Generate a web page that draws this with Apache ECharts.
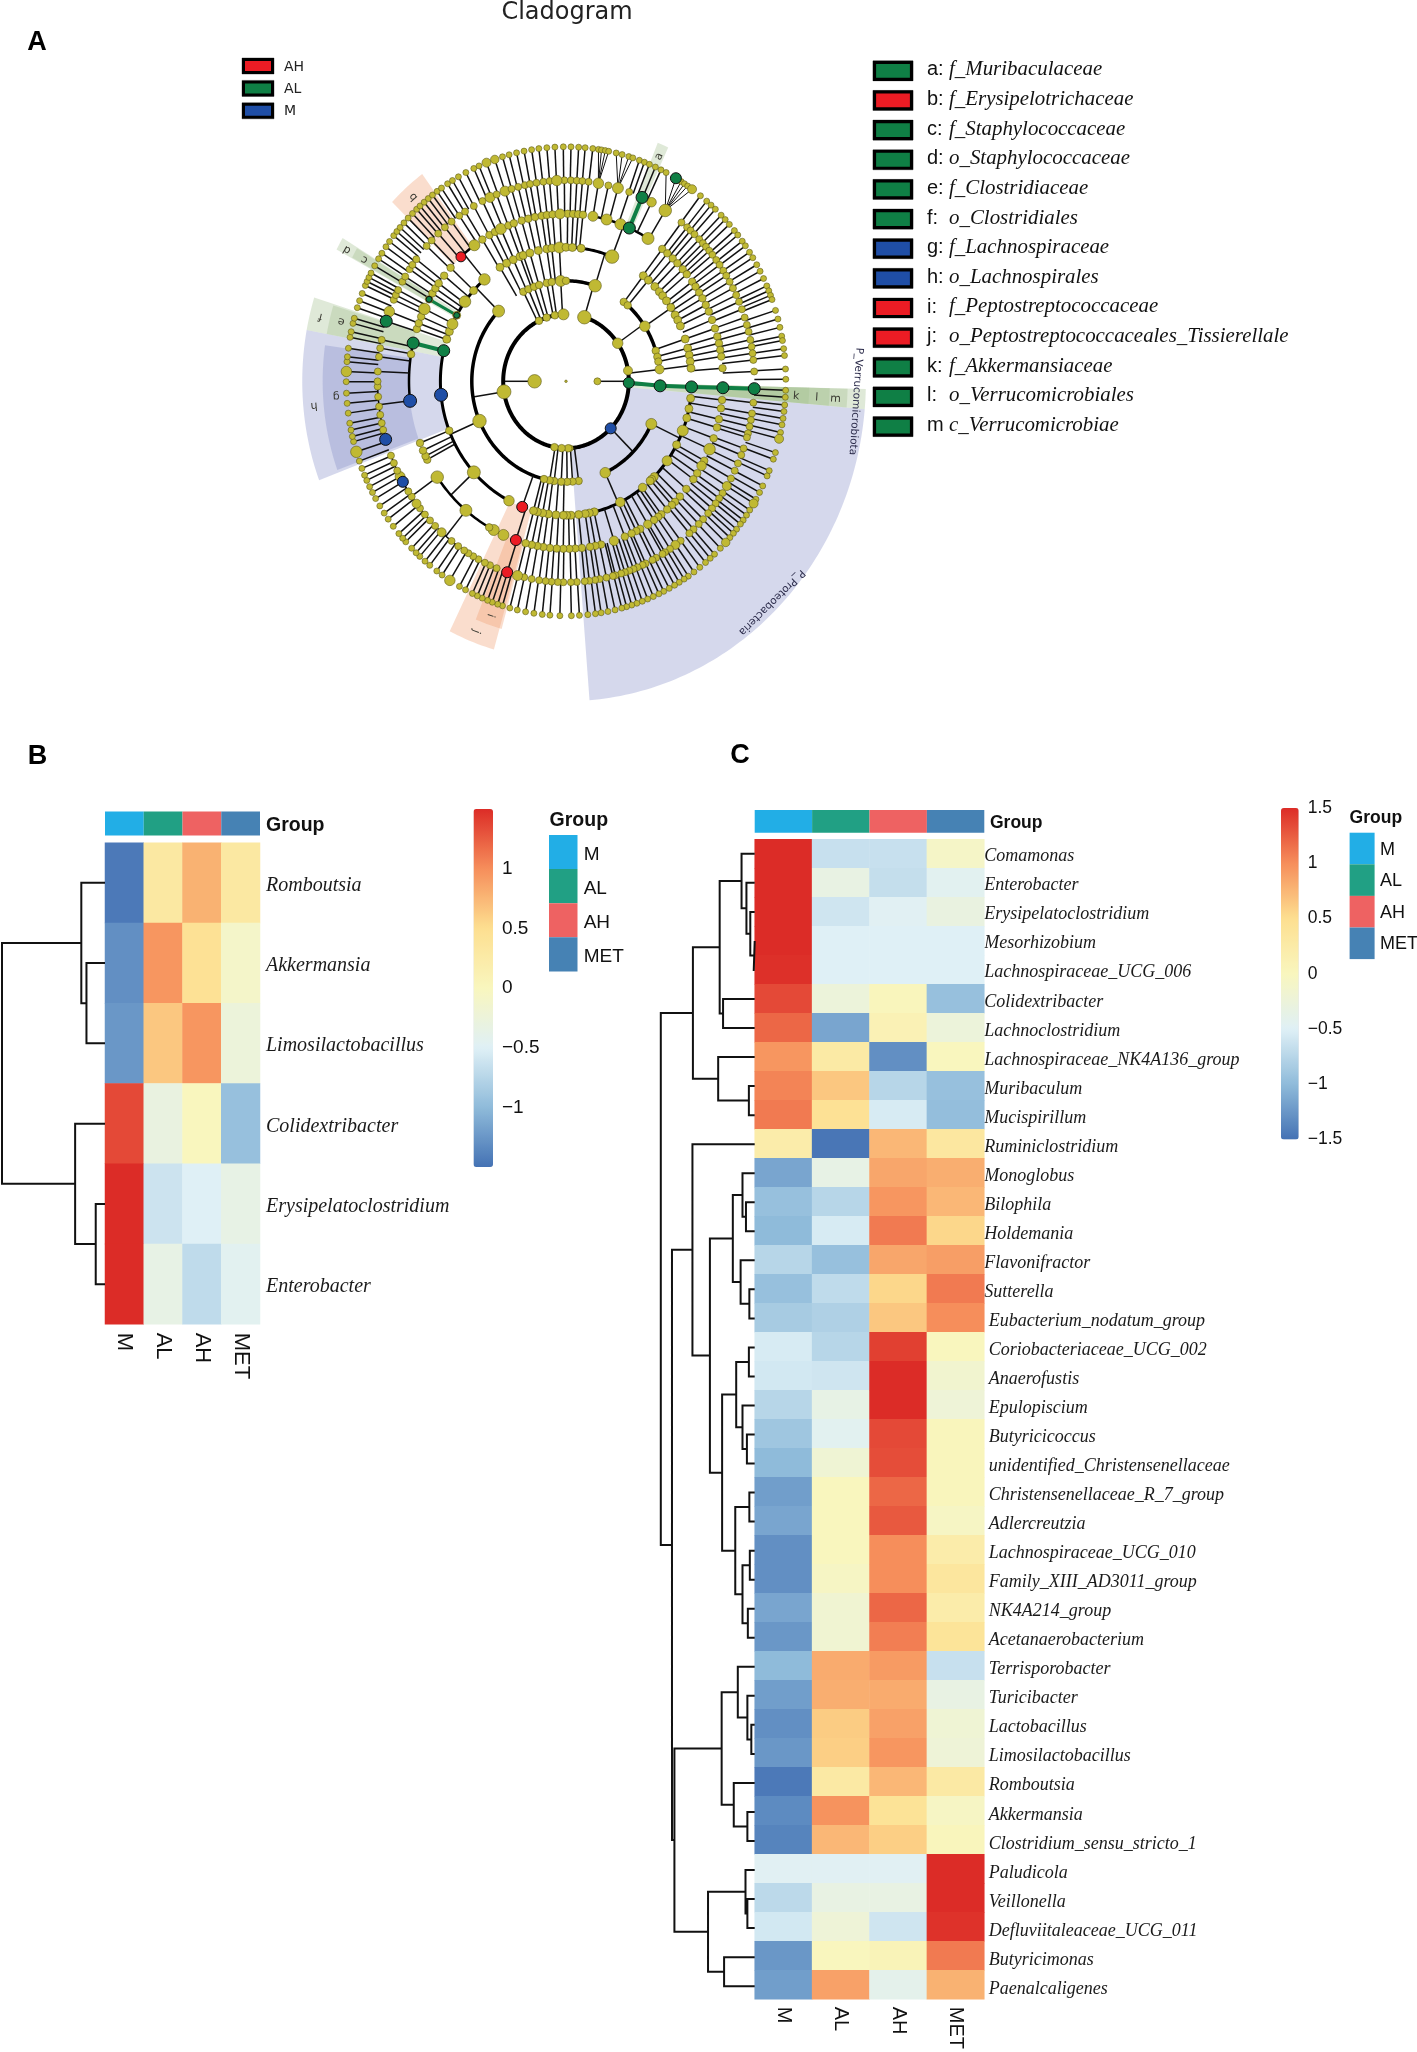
<!DOCTYPE html>
<html><head><meta charset="utf-8">
<style>html,body{margin:0;padding:0;background:#fff}#c{width:1417px;height:2052px}</style>
<script src="https://cdn.jsdelivr.net/npm/echarts@6/dist/echarts.min.js"></script>
</head><body><div id="c"></div>
<script>
// ---------- Data: heatmaps ----------
const groups = ['M','AL','AH','MET'];
const rowsB = ['Romboutsia','Akkermansia','Limosilactobacillus','Colidextribacter','Erysipelatoclostridium','Enterobacter'];
const valuesB = [
 [-1.45,.3,.78,.3],[-1.3,.95,.45,-.1],[-1.25,.65,.95,-.25],[1.35,-.3,0,-.95],[1.5,-.62,-.5,-.35],[1.5,-.35,-.7,-.45]];
const rowsC = ['Comamonas','Enterobacter','Erysipelatoclostridium','Mesorhizobium','Lachnospiraceae_UCG_006','Colidextribacter','Lachnoclostridium','Lachnospiraceae_NK4A136_group','Muribaculum','Mucispirillum','Ruminiclostridium','Monoglobus','Bilophila','Holdemania','Flavonifractor','Sutterella','Eubacterium_nodatum_group','Coriobacteriaceae_UCG_002','Anaerofustis','Epulopiscium','Butyricicoccus','unidentified_Christensenellaceae','Christensenellaceae_R_7_group','Adlercreutzia','Lachnospiraceae_UCG_010','Family_XIII_AD3011_group','NK4A214_group','Acetanaerobacterium','Terrisporobacter','Turicibacter','Lactobacillus','Limosilactobacillus','Romboutsia','Akkermansia','Clostridium_sensu_stricto_1','Paludicola','Veillonella','Defluviitaleaceae_UCG_011','Butyricimonas','Paenalcaligenes'];
const valuesC = [
 [1.5,-.65,-.65,-.08],[1.5,-.33,-.67,-.45],[1.5,-.6,-.47,-.3],[1.5,-.5,-.5,-.5],[1.48,-.5,-.5,-.5],[1.35,-.25,.02,-.95],[1.2,-1.15,.1,-.25],[.95,.27,-1.3,0],[1.05,.65,-.75,-.95],[1.1,.45,-.55,-.97],
 [.22,-1.47,.75,.33],[-1.15,-.35,.85,.8],[-.95,-.75,.95,.75],[-1,-.55,1.1,.55],[-.75,-.95,.85,.9],[-.95,-.7,.55,1.1],[-.85,-.8,.65,1],[-.55,-.75,1.4,0],[-.58,-.6,1.5,-.15],[-.75,-.35,1.5,-.22],
 [-.9,-.45,1.35,.02],[-1,-.2,1.33,.02],[-1.2,0,1.2,.02],[-1.15,0,1.27,-.05],[-1.3,0,1,.22],[-1.3,-.05,1,.35],[-1.15,-.18,1.2,.22],[-1.25,-.18,1.08,.4],[-1,.82,.92,-.65],[-1.2,.8,.82,-.33],
 [-1.3,.62,.88,-.2],[-1.25,.6,.95,-.22],[-1.45,.28,.75,.28],[-1.33,.97,.42,-.05],[-1.38,.75,.6,.02],[-.47,-.47,-.47,1.5],[-.72,-.33,-.33,1.5],[-.58,-.22,-.6,1.47],[-1.25,0,.06,1.1],[-1.2,.88,-.4,.78]];
// dendrograms: [height, left, right]; a number is a row index
const treeB = [1,[.23,0,[.18,1,2]],[.29,3,[.09,4,5]]];
const treeC = [1,
 [.658,[.373,[.14,0,[.088,1,[.047,2,[.01,3,4]]]],[.337,5,6]],[.389,7,[.062,8,9]]],
 [.881,
  [.663,10,[.477,
    [.233,[.13,11,[.093,12,13]],[.15,14,[.057,15,16]]],
    [.347,[.197,[.062,17,18],[.13,19,[.083,20,21]]],[.207,[.057,22,23],[.13,[.052,24,25],[.073,26,27]]]]]],
  [.855,[.352,[.18,28,[.078,29,[.036,30,31]]],[.223,32,[.078,33,34]]],[.497,[.098,35,[.078,36,37]],[.326,38,39]]]]];
const ticksB = [-1,-.5,0,.5,1];

// ---------- Data: cladogram (angle in degrees clockwise from east; a number = node with own spoke,
// an array = [parent angle, child angles...] joined by an arc on that ring) ----------
const ring1 = [0,180];
const ring2 = [[0,-73,-34.6,-9.2,1.3,44.6,86.4],[180,88,94,100.6,171,244.5,252,259.8,267.7]];
const ring3 = [243.1,246.5,250.2,253.4,258.2,261.3,266.8,[-73,-90,-72],[-34.6,-52.2,-49.1,-33.2,-17.7,-14.1,-11.3],-6.8,2.6,[44.6,25.1,65.4],82.3,86,89.3,92.9,97.2,100,[171,103.5,156.7,224.3]];
const ring4 = [238.3,241.8,245.2,248.5,250.1,253.3,257.3,261.2,263.5,267,[288,270,272.9,276.9,291.5],308,311,[326.8,315,318,320.3,323.1,326.6,330.3,332.8,335.6],341.6,345.7,348.7,[353.2,351.5,354.4],2.4,[25.1,7.3,11.8,15.9,21.6,28.3,36.4,45.3,47,48],[65.4,52.4,64.4,77,79.3,81.2,84.2,87.7,89.7],91.2,94.6,98.1,100.7,103.2,105,110.4,[156.7,117,137.2,158.4,174.2,193.2],[224.3,198.3,201.8,205.3,209.5,216.5,222.6,229.5]];
const ring5 = [270.6,272.6,274.4,276.2,[291.5,279.9,285,290.3,293.8,301.5],307.8,310.2,312.8,315.2,318,320.3,323.5,325.6,328,330.3,332.9,335.4,338.5,341.6,344.5,346.9,349.2,351.5,355.5,2.2,6.4,9.3,13.1,16,19.9,23.9,28.3,30.3,33.3,35.8,40,43.5,46,47.6,49.9,52.6,54,55.9,58.6,61.8,63.4,65.3,68,72.2,77.1,79.2,81.2,84.2,86.6,88.8,91,93.4,95.9,98.3,100.5,102.6,104.9,108.6,[137.2,113.5,117.4,119.3,129.6,145.1],152.1,153.5,155.6,158.4,[193.2,173.3,189.3,193.2],198.2,200.3,202.7,205.6,209.3,211.7,213.7,215.8,219.1,222.7,[229.5,228,234.3],237.8,240.8,243.1,245.5,248.5,250.6,253.6,256.1,258.6,261.1,263,265.1,267.8];
const ring6 = [269.5,271.5,273.3,275,276.9,279.9,283,286,289.6,293.8,297,301.8,307.8,310,311.4,313,315,316.6,318,319.5,321,322.9,324.6,326.6,328.3,330.3,332.4,334.6,336.7,339,341.5,343.7,345.7,348.1,350.1,352,353.9,357.2,2.1,6.1,9.2,11.1,13,15,16.2,19.5,21.5,24.1,26.4,28.9,31.4,33.8,35.6,37.4,39.2,41,43.3,45.2,47.4,49.1,52.5,54.5,56.5,58.3,59.2,61.4,62.7,65,66,67.7,69,70.4,71.8,73,74.8,75.6,77.6,79.7,81.1,82.9,84.3,86.7,88.5,90.8,92.5,94.4,96.2,98.2,100.5,102.8,104.9,108.2,[129.6,111.6,113.8,115.5,117.7,119.5,121.2,122.7,124.9,127.4,131.3,134],[145.1,136.2,138.5,140.8,142.5,145,146.8,150,151.7,153.6,156,158.3],[173.3,163.2,166,168,170.4,172.8,175.6,178.5,180],182.8,187,189.5,191.9,197.4,200.3,203.9,205.4,207,209.7,211.4,213.9,215.4,217.4,222.3,224.5,227.3,230,232.6,235.5,237.6,240.7,243.7,246.2,248.4,251.1,253.2,255.3,257.4,259,261,263.1,265,267.2];
const ring7 = [271.3,273.3,275,277,289.5,290.9,292.3,294,295.6,307.7,309.8,311.3,312.8,314.9,316.4,318,320,321.4,323.3,324.7,326.6,328.2,330.2,332,334,336,337.3,338.5,339.6,342.4,344.6,346.7,348.9,350,352,353.7,357,359.5,2.2,3.9,5.8,7.4,9.1,10.7,12.6,14.2,17.7,19.4,22.4,23.8,26.5,28.3,30.2,31.4,33.3,34.8,36.3,37.5,39.1,40.4,41.8,43.4,45.4,47.5,49,50.6,52.5,54.4,56.2,57.5,59,60.4,62,63.6,65,66.6,68.2,69.7,71.2,72.6,74,75.3,77.1,79,80.8,82.3,84.3,86.5,88.6,91.6,94.2,96.2,98.4,100.6,102.8,104.8,106.8,108.1,109.6,110.9,112.4,113.8,115.2,117.2,119,121.9,124.3,126,128.3,129.9,131.7,133,134.6,136.8,138,139.5,141.8,144,145.8,147.9,150,151.7,153.3,155,156.4,158.2,160.1,162.5,165.1,166.4,168,169.7,172.2,174.6,177.1,179.9,182.4,184.8,186,188.1,190.8,192.2,194.3,195.6,198.3,200.1,202,204.1,205.2,206.3,207.5,209.5,211.5,213.1,215,216.6,218.4,219.7,221,222.5,224.1,225.7,227.2,228.4,229.8,231.2,232.6,234.1,235.5,237.4,238.9,240.7,242.9,245.2,246.7,248.8,251.1,253.2,255,257,259,261,262.9,265,267.1,269.3];
const fans7 = [[279.9,278.5,279.3,280.3,281.2],[286,283.2,284.8,286.6,287.7],[301.8,297.1,300,301.6,302.6,303.6,305]];
// larger nodes: [ring, angle, abundance]
const abundance = [[1,180,13.5],[1,0,7],[2,-73,13.5],[2,-34.6,10.5],[2,-9.2,9],[2,171,14],[2,267.7,11],[2,86.4,6.5],[3,-72,12.5],[3,-33.2,10.5],[3,-6.8,9],[3,25.1,11],[3,65.4,10.5],[3,156.7,13.5],[3,224.3,12],[3,266.8,11],[4,291.5,13.5],[4,21.6,11],[4,36.4,10],[4,52.4,8.5],[4,64.4,9.5],[4,117,10.5],[4,137.2,13],[4,158.4,7.5],[4,216.5,11.5],[4,229.5,11.5],[4,205.3,11],[4,267,11],[5,279.9,10],[5,285,11],[5,290.3,11],[5,301.5,12],[5,23.9,11.5],[5,30.3,9.5],[5,58.6,8.5],[5,72.2,9.5],[5,117.4,11],[5,113.5,11],[5,129.6,12],[5,145.1,12.5],[5,234.3,11],[5,245.5,11],[5,205.6,11.5],[5,267.8,10],[6,279.9,10.5],[6,286,11],[6,297,9.5],[6,301.8,12.5],[6,31.4,9],[6,54.5,9],[6,104.9,10],[6,131.3,9],[6,142.5,9],[6,151.7,10],[6,200.3,10.5],[6,267.2,10.5],[6,251.1,10],[6,246.2,10],[7,14.2,9],[7,31.4,9],[7,43.4,8.5],[7,305,9],[7,121.9,10.5],[7,162.5,11.5],[7,182.4,10.5],[7,251.1,8.5],[7,248.8,9]];
// discriminant nodes: [ring, angle, group, abundance]
const biomarkers = [[2,1.3,'AL',11],[3,2.6,'AL',12],[4,2.4,'AL',12],[5,2.2,'AL',12],[6,2.1,'AL',12],[7,300,'AL',11],[6,293.8,'AL',12],[5,293.8,'AL',12],[4,209.5,'AL',6],[5,209.3,'AL',6],[4,193.2,'AL',12],[5,193.2,'AL',12],[6,197.4,'AL',12],[5,228,'AH',10],[4,110.4,'AH',11],[5,108.6,'AH',11],[6,108.2,'AH',11],[4,174.2,'M',13],[5,173.3,'M',13],[6,163.2,'M',12],[6,150,'M',11],[2,44.6,'M',11]];
const biomarkerLinks = [[2,1.3,3,2.6,4],[3,2.6,4,2.4,4],[4,2.4,5,2.2,4],[5,2.2,6,2.1,4],[5,293.8,6,293.8,4],[4,209.5,5,209.3,3],[4,193.2,5,193.2,4]];
// shaded clades: [group, inner ring, outer level, from angle, to angle]
const clades = [['M',2,9.55,5,85.5],['AL',2,9.55,1.4,5],['AL',3,8.97,1.4,5],['AL',4,8.4,1.4,5],['AL',5,7.75,1.4,5],['M',4,8.4,159.4,190.5],['M',5,7.75,160,188],['AL',4,8.4,190.5,197.3],['AL',5,7.75,190.5,197],['AL',4,8.3,208.3,211],['AL',5,7.75,208.5,210.8],['AH',5,7.7,224,233.5],['AL',5,7.7,292.3,295],['AH',4,8.33,106,116.4],['AH',5,7.67,105.5,112]];
// clade labels: [text, level, angle, follow tangent]
const cladeLabels = [['a',7.33,293.8,0],['b',7.34,228.6,0],['c',7.37,209.5,0],['d',8,209.4,0],['e',7.38,194,0],['f',8.06,193.9,0],['g',7.33,176.5,0],['h',8.06,174.8,0],['i',7.39,109,0],['j',8,111,0],['k',7.34,3.5,0],['l',8,3.5,0],['m',8.6,3.5,0],['P_Proteobacteria',9.3,45.2,1],['P_Verrucomicrobiota',9.25,3.7,1]];
const legendA = [['a:','f_Muribaculaceae','AL'],['b:','f_Erysipelotrichaceae','AH'],['c:','f_Staphylococcaceae','AL'],['d:','o_Staphylococcaceae','AL'],['e:','f_Clostridiaceae','AL'],['f:','o_Clostridiales','AL'],['g:','f_Lachnospiraceae','M'],['h:','o_Lachnospirales','M'],['i:','f_Peptostreptococcaceae','AH'],['j:','o_Peptostreptococcaceales_Tissierellale','AH'],['k:','f_Akkermansiaceae','AL'],['l:','o_Verrucomicrobiales','AL'],['m','c_Verrucomicrobiae','AL']];
const legendCladeGroups = ['AH','AL','M'];

// ---------- Styles ----------
const ramp = ['#4472B4','#8FBBDA','#DFF0F6','#F9F6BE','#FDDF90','#F68E5B','#DC2C27'];
const groupColor = {M:'#22AEE6',AL:'#21A084',AH:'#EE6262',MET:'#4682B4'};
const cladeColor = {AL:'#0F7F45',AH:'#EC1C24',M:'#1F4EA6'};
const cladeFill = {AL:'rgba(164,192,144,.35)',AH:'rgba(241,158,112,.35)',M:'rgba(135,144,200,.35)'};
const serif='"Liberation Serif"', sans='"Liberation Sans"';
const defaultSize = {0:2.5,1:7,2:7.5,3:7.5,4:8,5:7.5,6:7,7:6};
const arcWidth = {2:4,3:3.5,4:3,5:2.5,6:1.5};

// ---------- Cladogram build ----------
const P = (r,a)=>[r*Math.cos(a*Math.PI/180), r*Math.sin(a*Math.PI/180)];
const links=[], nodes=[];
const arcPts=(r,a0,a1)=>{const n=Math.max(2,Math.ceil(Math.abs(a1-a0))+1),o=[];for(let i=0;i<n;i++)o.push(P(r,a0+(a1-a0)*i/(n-1)));return o;};
[ring1].forEach(l=>l.forEach(a=>nodes.push([1,a])));
nodes.push([0,0]);
[[2,ring2],[3,ring3],[4,ring4],[5,ring5],[6,ring6],[7,ring7]].forEach(([k,list])=>{
  list.forEach(e=>{
    if(typeof e==='number'){links.push({p:[P(k-1,e),P(k,e)],w:1.5,c:'#111'});nodes.push([k,e]);}
    else{
      const p=e[0],ch=e.slice(1),lo=Math.min(p,...ch),hi=Math.max(p,...ch);
      links.push({p:[P(k-1,p),P(k,p)],w:1.5,c:'#111'});
      links.push({p:arcPts(k,lo,hi),w:arcWidth[k]||1.5,c:'#000'});
      ch.forEach(a=>nodes.push([k,a]));
    }
  });
});
fans7.forEach(f=>f.slice(1).forEach(a=>{links.push({p:[P(6,f[0]),P(7,a)],w:1,c:'#111'});nodes.push([7,a]);}));
biomarkerLinks.forEach(l=>links.push({p:[P(l[0],l[1]),P(l[2],l[3])],w:l[4],c:cladeColor.AL}));
const norm=a=>((a%360)+360)%360;
const sizeOf=(k,a)=>{const h=abundance.find(b=>b[0]===k&&Math.abs(norm(b[1])-norm(a))<.05);return h?h[2]:defaultSize[k];};
const yellow=nodes.map(([k,a])=>[...P(k,a),sizeOf(k,a)]);
const marker=g=>biomarkers.filter(b=>b[2]===g).map(b=>[...P(b[0],b[1]),b[3]]);

// ---------- Helpers ----------
function dendro(tree){const out=[];(function w(t){if(typeof t==='number')return{h:0,y:t+.5};
  const L=w(t[1]),R=w(t[2]);out.push([L.h,L.y],[t[0],L.y],[t[0],R.y],[R.h,R.y],['-','-']);return{h:t[0],y:(L.y+R.y)/2};})(tree);return out;}
const cells=v=>v.flatMap((r,i)=>r.map((x,j)=>[j,i,x]));
const hidden={show:false};
const grid=[],xAxis=[],yAxis=[],series=[];
function addGrid(g,x,y){grid.push(Object.assign({containLabel:false},g));const i=grid.length-1;
  xAxis.push(Object.assign({gridIndex:i,axisLine:hidden,axisTick:hidden,splitLine:hidden,axisLabel:hidden},x));
  yAxis.push(Object.assign({gridIndex:i,axisLine:hidden,axisTick:hidden,splitLine:hidden,axisLabel:hidden},y));return i;}

function heatPanel(o){
  const n=o.rows.length;
  const g=addGrid({left:o.x0,top:o.y0,width:o.x1-o.x0,height:o.y1-o.y0},
    {type:'category',data:groups,axisLabel:{show:true,rotate:-90,margin:o.xMargin,fontFamily:sans,fontSize:o.xFont,color:'#111',interval:0}},
    {type:'category',data:o.rows,inverse:true});
  // row names sit a little below the centre of each row, so they live on their own axis
  addGrid({left:o.x0,top:o.y0+o.yShift,width:o.x1-o.x0,height:o.y1-o.y0},{type:'category',data:groups},
    {type:'category',data:o.rows,inverse:true,position:'right',axisLabel:{show:true,interval:0,margin:o.yMargin,fontFamily:serif,fontStyle:'italic',fontSize:o.yFont,color:'#1a1a1a',formatter:(v,i)=>o.indentFrom!=null&&i>=o.indentFrom?'\u00A0'+v:v}});
  o.seriesIndex=series.length;
  series.push({type:'heatmap',name:o.name,xAxisIndex:g,yAxisIndex:g,data:cells(o.values),itemStyle:{borderWidth:0},silent:true,progressive:0,animation:false});
  const a=addGrid({left:o.x0,top:o.barTop,width:o.x1-o.x0,height:o.barBot-o.barTop},{type:'category',data:groups},{type:'value',min:0,max:1});
  series.push({type:'custom',xAxisIndex:a,yAxisIndex:a,silent:true,data:groups.map((s,i)=>[i]),renderItem:(p,api)=>{
    const i=api.value(0),c=api.coord([i,1]),s=api.size([1,1]);
    return{type:'rect',shape:{x:c[0]-s[0]/2,y:c[1],width:s[0],height:s[1]},style:{fill:groupColor[groups[i]]}};}});
  const d=addGrid({left:o.dendroL,top:o.y0,width:o.x0-o.dendroL,height:o.y1-o.y0},{type:'value',min:0,max:1,inverse:true},{type:'value',min:0,max:n,inverse:true});
  series.push({type:'line',xAxisIndex:d,yAxisIndex:d,data:dendro(o.tree),showSymbol:false,silent:true,clip:false,connectNulls:false,lineStyle:{color:'#111',width:2,join:'miter'}});
  addGrid({left:o.cbX1,top:o.cbTop,width:1,height:o.cbBot-o.cbTop},{type:'value',min:0,max:1},{type:'value',min:-1.5,max:1.5,interval:.5,position:'right',
    axisLabel:{show:true,margin:o.tickMargin,fontFamily:sans,fontSize:o.tickFont,color:'#111',formatter:v=>(o.ticks.includes(v)?String(v).replace('-','\u2212'):'')}});
  return{seriesIndex:o.seriesIndex,min:-1.5,max:1.5,left:o.cbX0,top:o.cbTop,itemWidth:o.cbX1-o.cbX0,itemHeight:o.cbBot-o.cbTop,padding:0,calculable:false,inRange:{color:ramp},orient:'vertical'};
}
const vmB=heatPanel({name:'B',rows:rowsB,values:valuesB,tree:treeB,x0:105,x1:260,y0:842.7,y1:1324.3,barTop:811.5,barBot:835.4,dendroL:2,xMargin:8.4,xFont:22,yMargin:6,yFont:20,yShift:2.8,cbX0:473.5,cbX1:493,cbTop:809,cbBot:1167,tickMargin:8,tickFont:19,ticks:ticksB});
const vmC=heatPanel({name:'C',rows:rowsC,values:valuesC,tree:treeC,x0:754.7,x1:984.3,y0:839.3,y1:2000.7,barTop:810,barBot:832.7,dendroL:660.8,xMargin:7.6,xFont:20,yMargin:0,yFont:18,yShift:2.8,indentFrom:16,cbX0:1281,cbX1:1298.7,cbTop:808,cbBot:1139.6,tickMargin:8,tickFont:17.5,ticks:[-1.5,-1,-.5,0,.5,1,1.5]});

// cladogram grid (anisotropic, so that the circle is slightly taller than wide)
const cg=addGrid({left:252,top:46.3,width:628,height:670},{type:'value',min:-10,max:10},{type:'value',min:-10,max:10,inverse:true});
const wedges=clades.map(c=>{const o=arcPts(c[2],c[3],c[4]),i=arcPts(c[1],c[4],c[3]);return{pts:o.concat(i),fill:cladeFill[c[0]]};});
series.push({type:'custom',xAxisIndex:cg,yAxisIndex:cg,silent:true,clip:false,z:1,data:wedges.map((w,i)=>[i]),renderItem:(p,api)=>({type:'polygon',shape:{points:wedges[p.dataIndex].pts.map(q=>api.coord(q))},style:{fill:wedges[p.dataIndex].fill,stroke:null}})});
series.push({type:'custom',xAxisIndex:cg,yAxisIndex:cg,silent:true,clip:false,z:2,data:links.map((w,i)=>[i]),renderItem:(p,api)=>{const l=links[p.dataIndex];return{type:'polyline',shape:{points:l.p.map(q=>api.coord(q))},style:{stroke:l.c,lineWidth:l.w,fill:null}};}});
series.push({type:'scatter',xAxisIndex:cg,yAxisIndex:cg,silent:true,z:3,clip:false,data:yellow,symbolSize:v=>v[2],large:false,itemStyle:{color:'#C0B933',borderColor:'#5e5b1a',borderWidth:.6,opacity:1}});
['AL','AH','M'].forEach(g=>series.push({type:'scatter',xAxisIndex:cg,yAxisIndex:cg,silent:true,z:4,clip:false,data:marker(g),symbolSize:v=>v[2],itemStyle:{color:cladeColor[g],borderColor:'#111',borderWidth:1,opacity:1}}));
series.push({type:'custom',xAxisIndex:cg,yAxisIndex:cg,silent:true,clip:false,z:5,data:cladeLabels.map((w,i)=>[i]),renderItem:(p,api)=>{const l=cladeLabels[p.dataIndex],c=api.coord(P(l[1],l[2]));
  return{type:'text',x:c[0],y:c[1],rotation:-(l[2]+(l[3]?90:0))*Math.PI/180,style:{text:l[0],font:(l[3]?'10.5px':'11px')+' "DejaVu Sans"',fill:l[3]?'#2b2b4a':'#3a3a32',align:'center',verticalAlign:'middle'}};}});

// ---------- Page furniture ----------
const T=(text,x,y,font,fill,align)=>({type:'text',x,y,silent:true,style:{text,font,fill:fill||'#111',align:align||'left',verticalAlign:'middle'}});
const R=(x,y,w,h,fill,stroke,lw)=>({type:'rect',silent:true,shape:{x,y,width:w,height:h},style:{fill,stroke:stroke||null,lineWidth:lw||0}});
const g=[];
g.push(T('Cladogram',567,12.5,'24px "DejaVu Sans"','#222','center'));
g.push(T('A',37,43,'bold 27px '+sans,'#000','center'),T('B',37.5,756.5,'bold 27px '+sans,'#000','center'),T('C',740,755.5,'bold 27px '+sans,'#000','center'));
legendCladeGroups.forEach((n,i)=>{const y=66+22.4*i;
  g.push(R(242,y-8,32,16,'none','#aaa',1),R(243.5,y-6.5,29,13,cladeColor[n],'#000',3),T(n,284,y+1,'14px "DejaVu Sans"','#222'));});
legendA.forEach((l,i)=>{const y=70.8+29.65*i;
  g.push(R(873,y-10,40,20,'none','#aaa',1),R(874.5,y-8.5,37,17,cladeColor[l[2]],'#000',3.2),
    T(l[0],927,y-1,'20px '+sans,'#111'),T(l[1],949,y-1,'italic 20.9px '+serif,'#111'));});
g.push(T('Group',266,826,'bold 19.5px '+sans),T('Group',990,823.5,'bold 17.5px '+sans));
g.push(T('Group',549.6,820.5,'bold 19.5px '+sans),T('Group',1349.6,818.5,'bold 17.5px '+sans));
groups.forEach((n,i)=>{
  const yb=835+34.1*i, yc=832.7+31.6*i;
  g.push(R(549,yb,28.5,34.1,groupColor[n]),T(n,583.7,yb+19.5,'19px '+sans));
  g.push(R(1349.6,yc,25,31.6,groupColor[n]),T(n,1380,yc+17,'18px '+sans));
});

const chart=echarts.init(document.getElementById('c'),null,{renderer:'canvas',width:1417,height:2052});
chart.setOption({animation:false,backgroundColor:'#fff',grid,xAxis,yAxis,series,visualMap:[vmB,vmC],graphic:{elements:g}});
</script></body></html>
